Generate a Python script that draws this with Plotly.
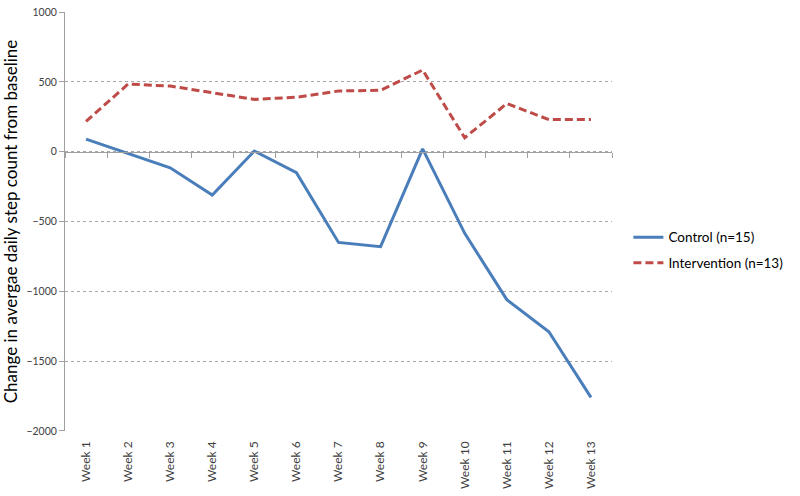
import plotly.graph_objects as go

weeks = ["Week 1", "Week 2", "Week 3", "Week 4", "Week 5", "Week 6", "Week 7",
         "Week 8", "Week 9", "Week 10", "Week 11", "Week 12", "Week 13"]
control = [90, -10, -115, -310, 5, -150, -650, -680, 20, -585, -1060, -1290, -1760]
intervention = [217, 485, 470, 425, 375, 390, 435, 440, 585, 100, 345, 230, 230]
y_ticks = [1000, 500, 0, -500, -1000, -1500, -2000]

fig = go.Figure()
fig.add_trace(go.Scatter(x=weeks, y=control, mode="lines", name="Control (n=15)",
                         legendgroup="c",
                         line=dict(color="#4A7EBB", width=3)))
fig.add_trace(go.Scatter(x=weeks, y=intervention, mode="lines", name="Intervention (n=13)",
                         legendgroup="i",
                         line=dict(color="#BE4B48", width=3, dash="8px,4px")))
# invisible trace to drive the zero-line axis with ticks
fig.add_trace(go.Scatter(x=weeks, y=[None] * len(weeks), xaxis="x2", showlegend=False,
                         hoverinfo="skip"))

ymin, ymax = -2001, 1001
zero_pos = (0 - ymin) / (ymax - ymin)

fig.update_layout(
    width=800, height=496,
    margin=dict(l=65, r=178, t=12, b=65),
    paper_bgcolor="white", plot_bgcolor="white",
    font=dict(family="Lato", size=11, color="#404040"),
    xaxis=dict(
        type="category", tickangle=-90, showgrid=False, showline=False, zeroline=False,
        ticks="", tickfont=dict(family="Lato", size=12, color="#404040"), range=[-0.5, 12.5],
        automargin=False, ticklabelstandoff=7,
    ),
    xaxis2=dict(
        type="category", overlaying="x", anchor="free", position=zero_pos, side="bottom",
        showline=True, linecolor="#A0A0A0", linewidth=1, ticks="outside", ticklen=5,
        tickcolor="#A0A0A0", tickson="boundaries", showticklabels=False, showgrid=False,
        zeroline=False, range=[-0.5, 12.5], automargin=False,
    ),
    yaxis=dict(
        range=[ymin, ymax], tickvals=y_ticks, showgrid=True, gridcolor="#A6A6A6",
        griddash="3px,3px", gridwidth=1, zeroline=False, showline=True, linecolor="#A0A0A0",
        ticks="outside", ticklen=5, tickcolor="#A0A0A0", automargin=False,
        ticklabeloverflow="allow",
        tickfont=dict(family="Lato", size=10.5, color="#404040"),
        title=dict(text="Change in avergae daily step count from baseline",
                   font=dict(family="Lato", size=17, color="#000000"), standoff=6),
    ),
    legend=dict(x=1.03, y=0.499, xanchor="left", yanchor="top",
                font=dict(family="Lato", size=13.5, color="#000000"),
                bgcolor="rgba(0,0,0,0)", traceorder="grouped", tracegroupgap=5),
)

fig.write_html(
    "out.html",
    config={"displayModeBar": False},
    post_script="document.body.style.margin='0';document.body.style.overflow='hidden';",
)
